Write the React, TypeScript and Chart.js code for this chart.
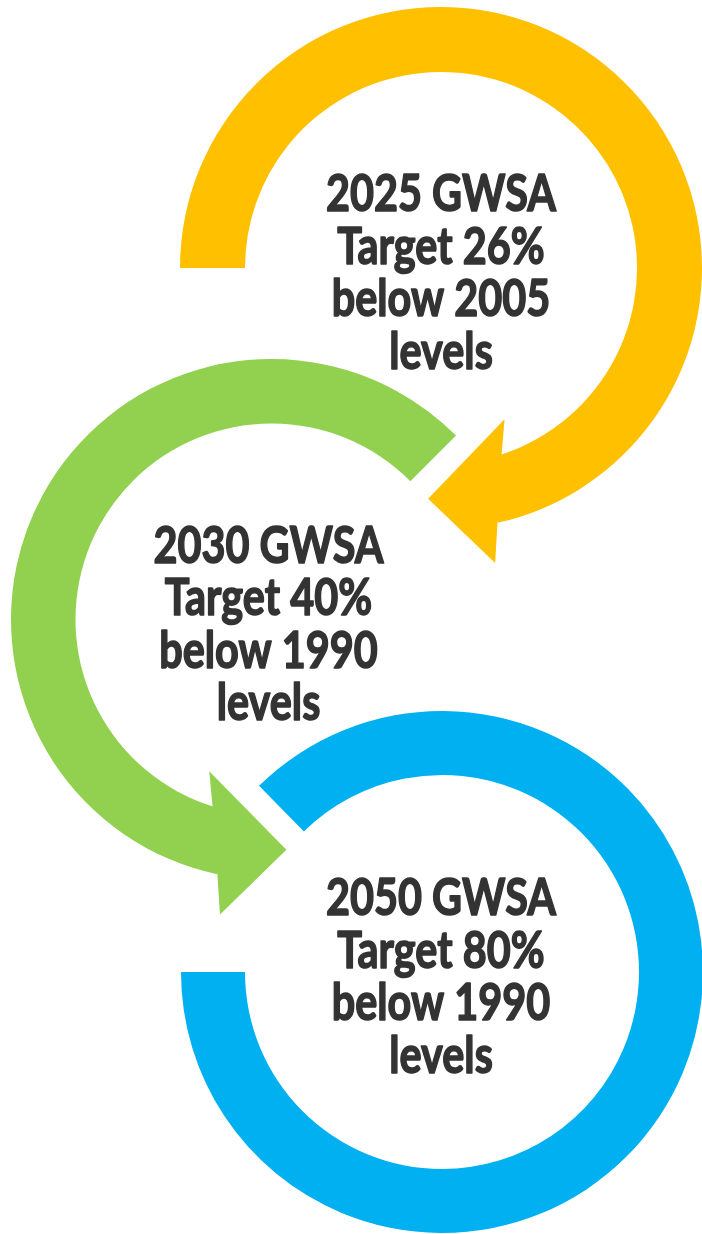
import React, { useEffect, useRef } from 'react';
import { Chart, registerables } from 'chart.js';

Chart.register(...registerables);

// ---- data ----
const targetYears = ['2025', '2030', '2050'];
const reductionPct = [26, 40, 80];
const baseYears = ['2005', '1990', '1990'];
const arcSweepDeg = [257.5, 213.1, 314.5];
const ringColors = ['#FFC000', '#92D050', '#00B0F0'];

// ---- layout ----
type Ring = { cx: number; cy: number; ro: number; ri: number; rotation: number; head: 'start' | 'end' | 'none'; textDx: number };
const rings: Ring[] = [
  { cx: 441, cy: 268, ro: 261, ri: 196, rotation: 270, head: 'end', textDx: 0 },
  { cx: 271, cy: 619, ro: 260.5, ri: 196, rotation: 192, head: 'start', textDx: -3 },
  { cx: 442, cy: 972, ro: 261, ri: 197, rotation: 315.5, head: 'none', textDx: -1 },
];
const PAD = 45;
const FONT = 'bold 52px Lato, "Open Sans", sans-serif';
const LINE_OFFSETS = [-57, -4.5, 48, 100.5];
const FIRST_LINE_WIDTH = 232;

const arrowHeadPlugin = {
  id: 'arrowHead',
  afterDatasetsDraw(chart: any, _args: any, opts: any) {
    if (!opts || !opts.side || opts.side === 'none') return;
    const arc: any = chart.getDatasetMeta(0).data[0];
    if (!arc) return;
    const { x, y, startAngle, endAngle, innerRadius, outerRadius } = arc;
    const d = opts.side === 'end' ? 1 : -1;
    const base = opts.side === 'end' ? endAngle : startAngle;
    const deg = Math.PI / 180;
    const pt = (r: number, a: number) => [x + r * Math.cos(base + d * a * deg), y + r * Math.sin(base + d * a * deg)];
    const mid = (innerRadius + outerRadius) / 2;
    const pts = [
      pt(outerRadius, 0),
      pt(outerRadius + 39, 2.1),
      pt(mid + 2.5, 15.7),
      pt(innerRadius - 32, -10.3),
      pt(innerRadius, -5.5),
    ];
    const ctx = chart.ctx;
    ctx.save();
    ctx.fillStyle = opts.color;
    ctx.beginPath();
    pts.forEach((p, i) => (i === 0 ? ctx.moveTo(p[0], p[1]) : ctx.lineTo(p[0], p[1])));
    ctx.closePath();
    ctx.fill();
    ctx.restore();
  },
};

const centerTextPlugin = {
  id: 'centerText',
  afterDraw(chart: any, _args: any, opts: any) {
    if (!opts || !opts.lines) return;
    const arc: any = chart.getDatasetMeta(0).data[0];
    if (!arc) return;
    const ctx = chart.ctx;
    ctx.save();
    ctx.font = FONT;
    ctx.fillStyle = '#333333';
    ctx.strokeStyle = '#333333';
    ctx.lineWidth = 1.6;
    ctx.lineJoin = 'round';
    ctx.textAlign = 'center';
    ctx.textBaseline = 'alphabetic';
    const w = ctx.measureText(opts.lines[0]).width || FIRST_LINE_WIDTH;
    const sx = (FIRST_LINE_WIDTH - 2) / w;
    opts.lines.forEach((line: string, i: number) => {
      ctx.save();
      ctx.translate(arc.x + opts.dx, arc.y + LINE_OFFSETS[i]);
      ctx.scale(sx, 1);
      ctx.fillText(line, 0, 0);
      ctx.strokeText(line, 0, 0);
      ctx.restore();
    });
    ctx.restore();
  },
};

function RingChart({ index }: { index: number }) {
  const ref = useRef<HTMLCanvasElement | null>(null);
  const ring = rings[index];
  const size = Math.round(2 * (ring.ro + PAD));
  useEffect(() => {
    if (!ref.current) return;
    const sweep = arcSweepDeg[index];
    const lines = [
      `${targetYears[index]} GWSA`,
      `Target ${reductionPct[index]}%`,
      `below ${baseYears[index]}`,
      'levels',
    ];
    const chart = new Chart(ref.current, {
      type: 'doughnut',
      data: {
        labels: ['target arc', 'gap'],
        datasets: [
          {
            data: [sweep, 360 - sweep],
            backgroundColor: [ringColors[index], 'rgba(0,0,0,0)'],
            borderWidth: 0,
            hoverOffset: 0,
            offset: 0,
          },
        ],
      },
      options: {
        responsive: false,
        animation: false,
        devicePixelRatio: 1,
        events: [],
        rotation: ring.rotation,
        circumference: 360,
        cutout: ((ring.ri / ring.ro) * 100).toFixed(3) + '%',
        layout: { padding: PAD },
        plugins: {
          legend: { display: false },
          tooltip: { enabled: false },
          arrowHead: { side: ring.head, color: ringColors[index] },
          centerText: { lines, dx: ring.textDx },
        } as any,
      },
      plugins: [arrowHeadPlugin, centerTextPlugin],
    });
    let alive = true;
    if ((document as any).fonts && (document as any).fonts.load) {
      (document as any).fonts.load(FONT).then(() => {
        if (alive) chart.draw();
      }).catch(() => {});
    }
    return () => {
      alive = false;
      chart.destroy();
    };
  }, [index]);
  return (
    <canvas
      ref={ref}
      width={size}
      height={size}
      style={{
        position: 'absolute',
        left: Math.round(ring.cx - ring.ro - PAD),
        top: Math.round(ring.cy - ring.ro - PAD),
        width: size,
        height: size,
      }}
    />
  );
}

export default function App() {
  return (
    <div
      style={{
        position: 'absolute',
        left: 0,
        top: 0,
        width: 702,
        height: 1234,
        overflow: 'hidden',
        background: '#ffffff',
      }}
    >
      {rings.map((_, i) => (
        <RingChart key={i} index={i} />
      ))}
    </div>
  );
}
